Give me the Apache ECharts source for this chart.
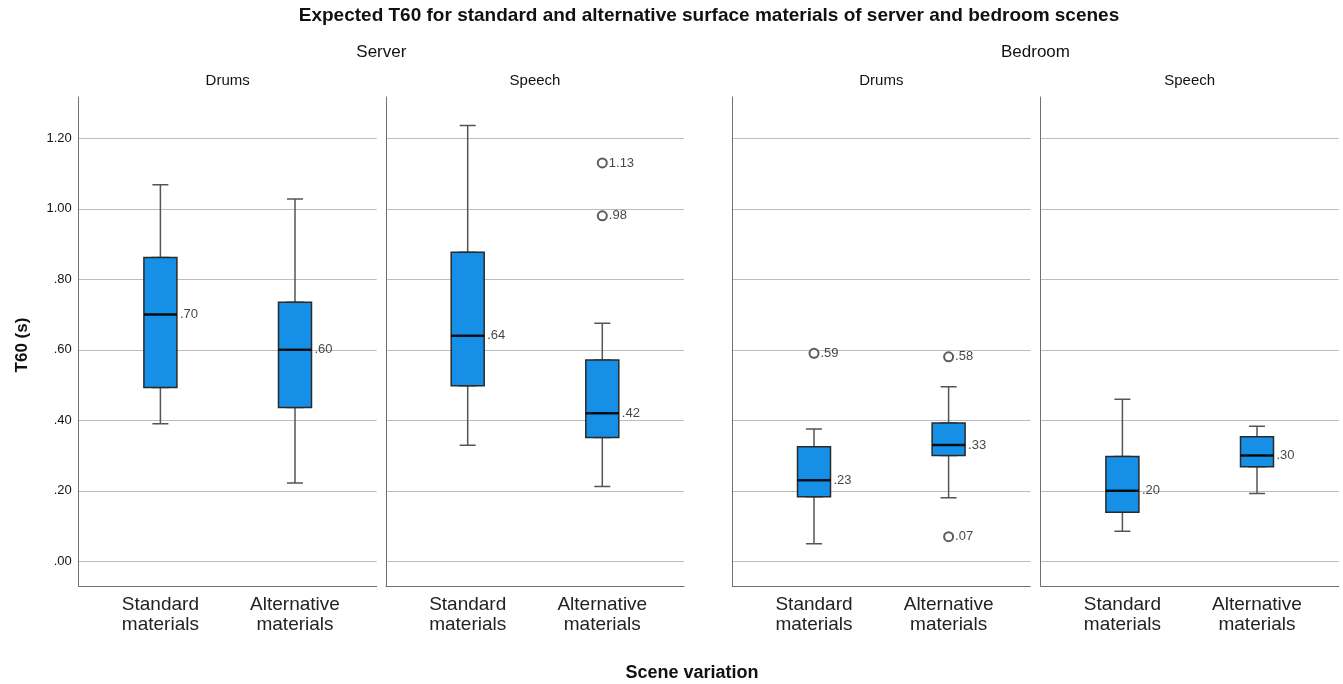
<!DOCTYPE html>
<html>
<head>
<meta charset="utf-8">
<script src="https://cdn.jsdelivr.net/npm/echarts@6/dist/echarts.min.js"></script>
<style>
  html, body { margin: 0; padding: 0; background: #fff; }
  #chart { width: 1343px; height: 684px; }
</style>
</head>
<body>
<div id="chart"></div>
<script>
// ---- data ----
const categories = ['Standard\nmaterials', 'Alternative\nmaterials'];
const sceneNames = ['Server', 'Bedroom'];
const sourceNames = ['Drums', 'Speech'];
const yTickValues = [0, 0.2, 0.4, 0.6, 0.8, 1.0, 1.2];

// [min, Q1, median, Q3, max] for Standard and Alternative materials
const serverDrums   = [[0.390, 0.493, 0.70, 0.862, 1.068], [0.222, 0.436, 0.60, 0.735, 1.028]];
const serverSpeech  = [[0.329, 0.498, 0.64, 0.877, 1.236], [0.212, 0.351, 0.42, 0.571, 0.675]];
const bedroomDrums  = [[0.050, 0.183, 0.23, 0.325, 0.375], [0.180, 0.300, 0.33, 0.392, 0.495]];
const bedroomSpeech = [[0.085, 0.139, 0.20, 0.297, 0.460], [0.192, 0.268, 0.30, 0.353, 0.383]];

// outliers: [category index, value]
const serverDrumsOutliers   = [];
const serverSpeechOutliers  = [[1, 1.13], [1, 0.98]];
const bedroomDrumsOutliers  = [[0, 0.59], [1, 0.58], [1, 0.07]];
const bedroomSpeechOutliers = [];

const panels = [
  { box: serverDrums,   outliers: serverDrumsOutliers },
  { box: serverSpeech,  outliers: serverSpeechOutliers },
  { box: bedroomDrums,  outliers: bedroomDrumsOutliers },
  { box: bedroomSpeech, outliers: bedroomSpeechOutliers }
];

// ---- layout ----
const FONT = '"Liberation Sans", Arial, sans-serif';
const TEXT = '#141414';
const panelLeft = [78.7, 386, 732.3, 1040.7];
const panelWidth = 298;
const innerOffset = 14.4;
const innerWidth = 269.2;
const plotTop = 97, plotBottom = 586;
const gridTop = 138.3, gridBottom = 561.3;       // positions of first / last tick value
const pxPerUnit = (gridBottom - gridTop) / (yTickValues[yTickValues.length - 1] - yTickValues[0]);
const yLow = yTickValues[0] - (plotBottom - gridBottom) / pxPerUnit;
const yHigh = yTickValues[yTickValues.length - 1] + (gridTop - plotTop) / pxPerUnit;

const BOX_FILL = '#1590e6';
const fmt = v => v.toFixed(2).replace(/^0\./, '.');

const grids = [], xAxes = [], yAxes = [], series = [];

panels.forEach((p, i) => {
  const L = panelLeft[i];
  const gA = grids.length, gB = gA + 1, gC = gA + 2, gD = gA + 3;

  // frame: left and bottom axis lines
  grids.push({ left: L, top: plotTop, width: panelWidth, height: plotBottom - plotTop, outerBoundsMode: 'none' });
  // gridlines and tick labels
  grids.push({ left: L, top: gridTop, width: panelWidth, height: gridBottom - gridTop, outerBoundsMode: 'none' });
  // data area: whiskers (with category labels)
  grids.push({ left: L + innerOffset, top: plotTop, width: innerWidth, height: plotBottom - plotTop, outerBoundsMode: 'none' });
  // data area: boxes, medians, outliers
  grids.push({ left: L + innerOffset, top: plotTop, width: innerWidth, height: plotBottom - plotTop, outerBoundsMode: 'none' });

  const lineStyle = { color: '#707070', width: 1 };
  xAxes.push({
    type: 'value', gridIndex: gA, min: 0, max: 1,
    axisLine: { show: true, onZero: false, lineStyle },
    axisTick: { show: false }, axisLabel: { show: false }, splitLine: { show: false }
  });
  yAxes.push({
    type: 'value', gridIndex: gA, min: yLow, max: yHigh,
    axisLine: { show: true, onZero: false, lineStyle },
    axisTick: { show: false }, axisLabel: { show: false }, splitLine: { show: false }
  });

  xAxes.push({ type: 'value', gridIndex: gB, show: false, min: 0, max: 1 });
  yAxes.push({
    type: 'value', gridIndex: gB,
    min: yTickValues[0], max: yTickValues[yTickValues.length - 1],
    interval: yTickValues[1] - yTickValues[0],
    axisLine: { show: false }, axisTick: { show: false },
    axisLabel: {
      show: i === 0, fontSize: 13, fontFamily: FONT, color: TEXT, margin: 7,
      padding: [4, 0, 0, 0],
      formatter: v => fmt(v)
    },
    splitLine: { show: true, lineStyle: { color: '#bdbdbd', width: 1 } }
  });

  xAxes.push({
    type: 'category', gridIndex: gC, data: categories, boundaryGap: true,
    axisLine: { show: false }, axisTick: { show: false }, splitLine: { show: false },
    axisLabel: { interval: 0, fontSize: 19, lineHeight: 20, fontFamily: FONT, color: '#222', margin: 9 }
  });
  yAxes.push({ type: 'value', gridIndex: gC, min: yLow, max: yHigh, show: false });

  xAxes.push({ type: 'category', gridIndex: gD, data: categories, boundaryGap: true, show: false });
  yAxes.push({ type: 'value', gridIndex: gD, min: yLow, max: yHigh, show: false });

  // whiskers
  series.push({
    type: 'boxplot', xAxisIndex: gC, yAxisIndex: gC, silent: true,
    boxWidth: [16, 16],
    itemStyle: { color: BOX_FILL, borderColor: '#555', borderWidth: 1.5 },
    data: p.box
  });
  // boxes
  series.push({
    type: 'boxplot', xAxisIndex: gD, yAxisIndex: gD, silent: true,
    boxWidth: [33, 33],
    itemStyle: { color: BOX_FILL, borderColor: '#2a2a2a', borderWidth: 1.5 },
    data: p.box.map(d => [d[1], d[1], d[2], d[3], d[3]])
  });
  // medians with value labels
  series.push({
    type: 'scatter', xAxisIndex: gD, yAxisIndex: gD, silent: true,
    symbol: 'rect', symbolSize: [33, 2.6],
    itemStyle: { color: '#000' },
    label: {
      show: true, position: 'right', distance: 3, fontSize: 13, fontFamily: FONT, color: TEXT,
      formatter: prm => fmt(prm.value[1])
    },
    data: p.box.map((d, k) => [k, d[2]])
  });
  // outliers
  if (p.outliers.length) {
    series.push({
      type: 'scatter', xAxisIndex: gD, yAxisIndex: gD, silent: true,
      symbol: 'emptyCircle', symbolSize: 9,
      itemStyle: { color: '#333', borderWidth: 1.2 },
      label: {
        show: true, position: 'right', distance: 1, fontSize: 13, fontFamily: FONT, color: TEXT,
        formatter: prm => fmt(prm.value[1])
      },
      data: p.outliers
    });
  }
});

const txt = (x, y, text, size, weight, extra) => Object.assign({
  type: 'text', x, y, silent: true,
  style: { text, fontSize: size, fontWeight: weight, fontFamily: FONT, fill: '#111', align: 'center', verticalAlign: 'middle' }
}, extra || {});

const panelCenter = i => panelLeft[i] + panelWidth / 2;
const graphics = [
  txt(709, 16, 'Expected T60 for standard and alternative surface materials of server and bedroom scenes', 19, 'bold'),
  txt((panelLeft[0] + panelLeft[1] + panelWidth) / 2, 52, sceneNames[0], 17, 'normal'),
  txt((panelLeft[2] + panelLeft[3] + panelWidth) / 2, 52, sceneNames[1], 17, 'normal'),
  txt(panelCenter(0), 81, sourceNames[0], 15, 'normal'),
  txt(panelCenter(1), 81, sourceNames[1], 15, 'normal'),
  txt(panelCenter(2), 81, sourceNames[0], 15, 'normal'),
  txt(panelCenter(3), 81, sourceNames[1], 15, 'normal'),
  txt(692, 673, 'Scene variation', 18, 'bold'),
  txt(22.5, 345, 'T60 (s)', 17, 'bold', { rotation: Math.PI / 2 })
];

const chart = echarts.init(document.getElementById('chart'), null, { renderer: 'canvas' });
chart.setOption({
  animation: false,
  backgroundColor: '#fff',
  grid: grids,
  xAxis: xAxes,
  yAxis: yAxes,
  series,
  graphic: graphics
});
</script>
</body>
</html>
